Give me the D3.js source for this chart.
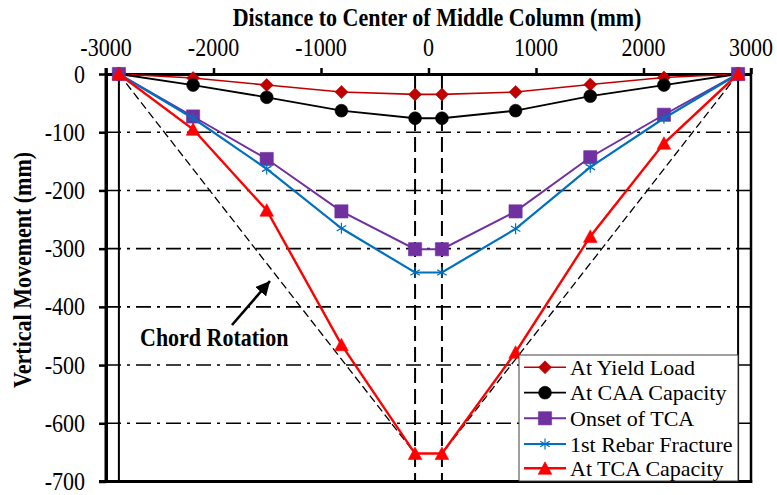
<!DOCTYPE html>
<html><head><meta charset="utf-8">
<script src="https://cdn.jsdelivr.net/npm/d3@7/dist/d3.min.js"></script>
<style>body{margin:0;background:#fff}svg{display:block}
svg text{font-family:"Liberation Serif","Times New Roman",Times,"DejaVu Serif",serif;}</style>
</head><body>
<svg id="c" width="777" height="495"></svg>
<script>
// ---- data ----
const xPositions = [-2880, -2190, -1505, -810, -125, 125, 810, 1505, 2190, 2880];
const yieldLoad   = [0, -7, -19, -31, -35, -35, -31, -18, -6, 0];
const caaCapacity = [0, -19, -40, -63, -76, -76, -63, -38, -19, 0];
const onsetTCA    = [0, -73, -146, -236, -301, -301, -236, -143, -70, 0];
const rebarFract  = [0, -76, -163, -265, -341, -341, -266, -160, -76, 0];
const tcaCapacity = [0, -95, -234, -465, -652, -652, -478, -279, -119, 0];
const seriesNames = ["At Yield Load", "At CAA Capacity", "Onset of TCA", "1st Rebar Fracture", "At TCA Capacity"];
const xTicks = [-3000, -2000, -1000, 0, 1000, 2000, 3000];
const yTicks = [0, -100, -200, -300, -400, -500, -600, -700];
const gridValues = [-100, -200, -300, -400, -500, -600];
const columnLines = [-2880, -125, 125, 2880];
const chordLines = [[[-2880, 0], [-125, -652]], [[2880, 0], [125, -652]]];

const svg = d3.select("#c");
const x = d3.scaleLinear().domain([-3000, 3000]).range([106, 751]);
const y = d3.scaleLinear().domain([-700, 0]).range([481.5, 74]);

function txt(g, s, px, py, opts = {}) {
  const sx = opts.sx || 0.88;
  const t = g.append("g").attr("transform", `translate(${px},${py}) rotate(${opts.rot || 0}) scale(${sx},1)`)
    .append("text").attr("x", 0).attr("y", 0)
    .style("font-size", (opts.size || 25) + "px")
    .style("font-weight", opts.bold ? "bold" : "normal")
    .attr("text-anchor", opts.anchor || "start").attr("fill", "#000").text(s);
  return t;
}

// grid lines (dash-dot)
svg.append("g").selectAll("line").data(gridValues).join("line")
  .attr("x1", x(-3000)).attr("x2", x(3000)).attr("y1", d => y(d)).attr("y2", d => y(d))
  .attr("stroke", "#000").attr("stroke-width", 1.6).attr("stroke-dasharray", "15,6,3,6");

// column lines
svg.append("g").selectAll("line").data(columnLines).join("line")
  .attr("x1", d => x(d)).attr("x2", d => x(d)).attr("y1", y(0)).attr("y2", y(-700))
  .attr("stroke", "#000").attr("stroke-width", 2)
  .attr("stroke-dasharray", d => Math.abs(d) < 1000 ? "15,6" : null);

// chord rotation dashed lines
svg.append("g").selectAll("line").data(chordLines).join("line")
  .attr("x1", d => x(d[0][0])).attr("y1", d => y(d[0][1]))
  .attr("x2", d => x(d[1][0])).attr("y2", d => y(d[1][1]))
  .attr("stroke", "#000").attr("stroke-width", 1.3).attr("stroke-dasharray", "8,4");

// axes
const xAxis = svg.append("g").attr("transform", `translate(0,${y(0)})`)
  .call(d3.axisTop(x).tickValues(xTicks).tickSize(6).tickSizeOuter(0).tickFormat(d => String(d)));
const yAxis = svg.append("g").attr("transform", `translate(${x(-3000)},0)`)
  .call(d3.axisLeft(y).tickValues(yTicks).tickSize(7).tickSizeOuter(0).tickFormat(d => String(d)));
[xAxis, yAxis].forEach(a => {
  a.select(".domain").attr("stroke", "#000").attr("stroke-width", 3);
  a.selectAll(".tick line").attr("stroke", "#000").attr("stroke-width", 2.5);
  a.selectAll(".tick text").remove();
});
xTicks.forEach(v => txt(svg, String(v), x(v), 56, { anchor: "middle" }));
yTicks.forEach(v => txt(svg, String(v), 85, y(v) + 8.5, { anchor: "end" }));

// frame
svg.append("line").attr("x1", x(-3000)).attr("x2", x(-3000)).attr("y1", 68).attr("y2", y(-700) + 1.5)
  .attr("stroke", "#000").attr("stroke-width", 3);
svg.append("line").attr("x1", x(3000)).attr("x2", x(3000)).attr("y1", 68).attr("y2", y(-700) + 1.5)
  .attr("stroke", "#000").attr("stroke-width", 2.5);
svg.append("line").attr("x1", 99).attr("x2", x(3000) + 1.2).attr("y1", y(-700)).attr("y2", y(-700))
  .attr("stroke", "#000").attr("stroke-width", 3);

// titles
txt(svg, "Distance to Center of Middle Column (mm)", 437, 26, { anchor: "middle", bold: true });
txt(svg, "Vertical Movement (mm)", 31, 270, { anchor: "middle", bold: true, rot: -90 });

// symbols
function markerPath(type) {
  switch (type) {
    case "diamond": return "M0,-6.5L6.5,0L0,6.5L-6.5,0Z";
    case "circle": return d3.symbol(d3.symbolCircle, Math.PI * 6.4 * 6.4)();
    case "square": return "M-6.6,-6.6H6.6V6.6H-6.6Z";
    case "triangle": return "M0,-6.5L6.8,6L-6.8,6Z";
    case "asterisk": {
      const r = 5.5, a = r * Math.cos(Math.PI / 6), b = r * Math.sin(Math.PI / 6);
      return `M0,${-r}V${r}M${-a},${-b}L${a},${b}M${-a},${b}L${a},${-b}`;
    }
  }
}
const series = [
  { name: seriesNames[0], values: yieldLoad, color: "#C00000", width: 1.6, marker: "diamond" },
  { name: seriesNames[1], values: caaCapacity, color: "#000000", width: 1.8, marker: "circle" },
  { name: seriesNames[2], values: onsetTCA, color: "#7030A0", width: 2, marker: "square" },
  { name: seriesNames[3], values: rebarFract, color: "#0070C0", width: 2.2, marker: "asterisk" },
  { name: seriesNames[4], values: tcaCapacity, color: "#FF0000", width: 2.4, marker: "triangle" }
];
function drawMarker(g, s, px, py) {
  const p = g.append("path").attr("d", markerPath(s.marker)).attr("transform", `translate(${px},${py})`);
  if (s.marker === "asterisk") p.attr("fill", "none").attr("stroke", s.color).attr("stroke-width", 1.2);
  else p.attr("fill", s.color).attr("stroke", s.color).attr("stroke-width", 0.6);
}
const line = d3.line().x(d => x(d[0])).y(d => y(d[1]));
series.forEach(s => {
  const pts = xPositions.map((xv, i) => [xv, s.values[i]]);
  const g = svg.append("g");
  g.append("path").attr("d", line(pts)).attr("fill", "none").attr("stroke", s.color).attr("stroke-width", s.width);
  pts.forEach(p => drawMarker(g, s, x(p[0]), y(p[1])));
});

// chord rotation annotation
svg.append("defs").append("marker").attr("id", "ah").attr("viewBox", "0 0 10 10")
  .attr("refX", 10).attr("refY", 5).attr("markerWidth", 5.5).attr("markerHeight", 5.5)
  .attr("markerUnits", "strokeWidth").attr("orient", "auto")
  .append("path").attr("d", "M0,0L10,5L0,10Z").attr("fill", "#000");
svg.append("line").attr("x1", 232).attr("y1", 325).attr("x2", 270).attr("y2", 281)
  .attr("stroke", "#000").attr("stroke-width", 2.6).attr("marker-end", "url(#ah)");
txt(svg, "Chord Rotation", 140, 346, { bold: true });

// legend
const lg = svg.append("g");
lg.append("rect").attr("x", 519).attr("y", 355).attr("width", 219).attr("height", 126)
  .attr("fill", "#fff").attr("stroke", "#404040").attr("stroke-width", 1);
const rowY = [367.3, 392.7, 418.3, 444, 468.3];
series.forEach((s, i) => {
  lg.append("line").attr("x1", 524).attr("x2", 566).attr("y1", rowY[i]).attr("y2", rowY[i])
    .attr("stroke", s.color).attr("stroke-width", s.width);
  drawMarker(lg, s, 545, rowY[i]);
  txt(lg, s.name, 570, rowY[i] + 7.5, { size: 22, sx: 1 });
});
</script>
</body></html>
